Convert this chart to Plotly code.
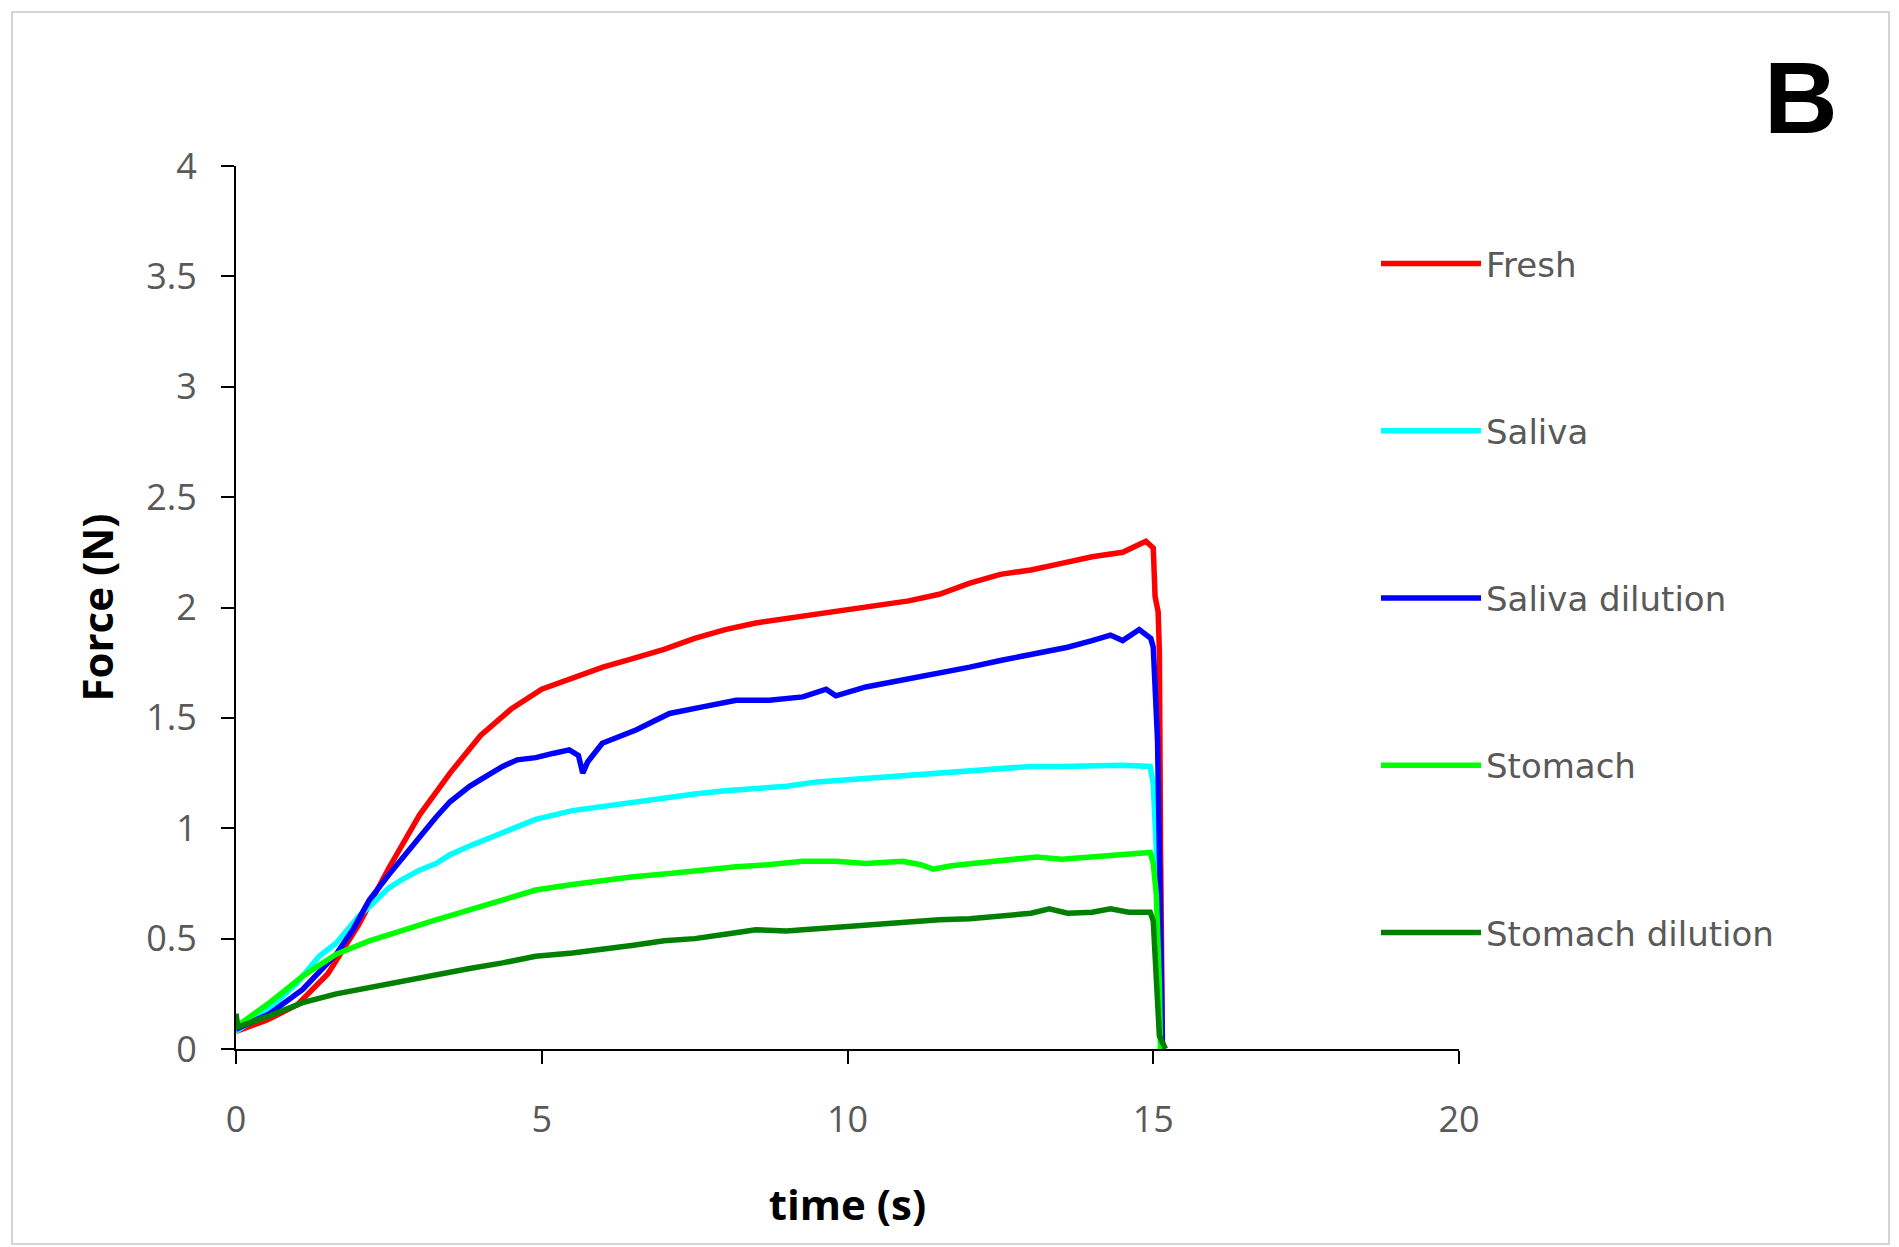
import plotly.graph_objects as go

# ---- data ----
series_names = ["Fresh", "Saliva", "Saliva dilution", "Stomach", "Stomach dilution"]
series_colors = ["#ff0000", "#00ffff", "#0000ff", "#00ff00", "#008000"]

fresh_t = [0, 0.5, 1.0, 1.3, 1.5, 2.0, 2.5, 3.0, 3.5, 4.0, 4.5, 5.0, 5.5, 6.0, 6.5, 7.0, 7.5,
           8.0, 8.5, 9.0, 9.5, 10.0, 10.5, 11.0, 11.5, 12.0, 12.5, 13.0, 13.5, 14.0, 14.5,
           14.88, 15.0, 15.03, 15.08, 15.1, 15.12, 15.15]
fresh_f = [0.08, 0.13, 0.20, 0.28, 0.34, 0.56, 0.82, 1.06, 1.25, 1.42, 1.54, 1.63, 1.68, 1.73,
           1.77, 1.81, 1.86, 1.90, 1.93, 1.95, 1.97, 1.99, 2.01, 2.03, 2.06, 2.11, 2.15, 2.17,
           2.20, 2.23, 2.25, 2.30, 2.27, 2.05, 1.98, 1.80, 0.90, 0.02]

saliva_t = [0, 0.5, 1.0, 1.36, 1.64, 2.0, 2.18, 2.5, 2.73, 3.0, 3.27, 3.5, 3.82, 4.0, 4.36, 4.9,
            5.5, 6.0, 6.5, 7.0, 7.5, 8.0, 8.5, 9.0, 9.5, 10.0, 10.5, 11.0, 11.5, 12.0, 12.5,
            13.0, 13.5, 14.0, 14.5, 14.95, 15.0, 15.05, 15.12]
saliva_f = [0.08, 0.17, 0.30, 0.42, 0.48, 0.60, 0.645, 0.73, 0.77, 0.81, 0.84, 0.88, 0.92, 0.94,
            0.98, 1.04, 1.08, 1.10, 1.12, 1.14, 1.155, 1.17, 1.18, 1.19, 1.21, 1.22, 1.225,
            1.235, 1.25, 1.26, 1.27, 1.28, 1.28, 1.285, 1.285, 1.28, 1.20, 0.90, 0.0]

salivadil_t = [0, 0.55, 1.09, 1.64, 1.91, 2.18, 2.5, 2.73, 3.0, 3.27, 3.5, 3.82, 4.0, 4.36, 4.6,
               4.9, 5.2, 5.45, 5.6, 5.67, 5.75, 5.99, 6.54, 7.09, 7.63, 8.18, 8.72, 9.27, 9.65,
               9.81, 10.3, 10.9, 11.5, 12.0, 12.5, 13.1, 13.6, 14.0, 14.3, 14.5, 14.77, 14.96,
               15.0, 15.03, 15.07, 15.1, 15.12, 15.15]
salivadil_f = [0.09, 0.16, 0.27, 0.43, 0.54, 0.675, 0.79, 0.87, 0.96, 1.05, 1.12, 1.19, 1.22,
               1.28, 1.31, 1.32, 1.34, 1.355, 1.33, 1.25, 1.30, 1.385, 1.445, 1.52, 1.55, 1.58,
               1.58, 1.595, 1.63, 1.60, 1.64, 1.67, 1.70, 1.73, 1.76, 1.79, 1.82, 1.85, 1.875,
               1.85, 1.90, 1.86, 1.82, 1.64, 1.40, 0.90, 0.30, 0.0]

stomach_t = [0, 0.55, 1.09, 1.64, 2.18, 2.73, 3.27, 3.82, 4.36, 4.9, 5.5, 5.99, 6.5, 7.09, 7.6,
             8.18, 8.7, 9.27, 9.81, 10.3, 10.9, 11.2, 11.4, 11.7, 12.2, 12.7, 13.1, 13.5, 14.0,
             14.5, 14.95, 15.0, 15.05, 15.1, 15.12]
stomach_f = [0.10, 0.21, 0.33, 0.43, 0.49, 0.54, 0.585, 0.63, 0.675, 0.72, 0.745, 0.765, 0.78,
             0.795, 0.81, 0.826, 0.835, 0.85, 0.85, 0.84, 0.85, 0.835, 0.815, 0.83, 0.845, 0.86,
             0.87, 0.86, 0.87, 0.885, 0.89, 0.84, 0.70, 0.30, 0.0]

stomachdil_t = [0, 0.03, 0.55, 1.09, 1.64, 2.18, 2.73, 3.27, 3.82, 4.36, 4.9, 5.5, 6.0, 6.5, 7.0,
                7.5, 8.0, 8.5, 9.0, 9.5, 10.0, 10.5, 11.0, 11.5, 12.0, 12.5, 13.0, 13.3, 13.6,
                14.0, 14.3, 14.6, 14.95, 15.0, 15.05, 15.1, 15.15, 15.2]
stomachdil_f = [0.16, 0.10, 0.15, 0.21, 0.25, 0.28, 0.31, 0.34, 0.365, 0.39, 0.42, 0.435, 0.45,
                0.47, 0.49, 0.50, 0.52, 0.54, 0.535, 0.545, 0.555, 0.57, 0.58, 0.585, 0.59, 0.60,
                0.615, 0.635, 0.615, 0.62, 0.635, 0.62, 0.62, 0.58, 0.30, 0.06, 0.03, 0.0]

x_ticks = [0, 5, 10, 15, 20]
y_ticks = [0, 0.5, 1, 1.5, 2, 2.5, 3, 3.5, 4]

all_t = [fresh_t, saliva_t, salivadil_t, stomach_t, stomachdil_t]
all_f = [fresh_f, saliva_f, salivadil_f, stomach_f, stomachdil_f]

fig = go.Figure()
for name, color, t, f in zip(series_names, series_colors, all_t, all_f):
    fig.add_trace(go.Scatter(
        x=t, y=f, mode="lines", name=name, legendgroup=name,
        line=dict(color=color, width=5.5),
    ))

# the page body adds an 8px offset; target positions are in screenshot pixels
OFF = 8
W, H = 1899, 1247
L, R, T, B = 236 - OFF, 440 + OFF, 166 - OFF, 198 + OFF
pw, ph = W - L - R, H - T - B

def px(xp):
    return (xp - OFF - L) / pw

def py(yp):
    return (H - B - (yp - OFF)) / ph

tick_font = dict(family="Open Sans, sans-serif", size=36, color="#595959")
title_font = dict(family="Open Sans, sans-serif", size=42, color="#000000", weight="bold")

fig.update_layout(
    width=W, height=H,
    margin=dict(l=L, r=R, t=T, b=B, autoexpand=False),
    paper_bgcolor="white", plot_bgcolor="white",
    showlegend=True,
    legend=dict(
        x=px(1376), y=py(235), xanchor="left", yanchor="top",
        font=dict(family="DejaVu Sans, sans-serif", size=34, color="#595959"),
        bgcolor="rgba(0,0,0,0)", borderwidth=0,
        tracegroupgap=120, itemwidth=100, traceorder="grouped",
    ),
    xaxis=dict(
        range=[0, 20], tickvals=x_ticks, ticktext=[str(v) for v in x_ticks],
        showline=True, linecolor="black", linewidth=2,
        ticks="outside", ticklen=13, tickwidth=2, tickcolor="black",
        showgrid=False, zeroline=False, tickfont=tick_font, ticklabelstandoff=25,
        title=dict(text="time (s)", font=title_font, standoff=48),
        automargin=False,
    ),
    yaxis=dict(
        range=[0, 4], tickvals=y_ticks, ticktext=[f"{v:g}" for v in y_ticks],
        showline=True, linecolor="black", linewidth=2,
        ticks="outside", ticklen=13, tickwidth=2, tickcolor="black",
        showgrid=False, zeroline=False, tickfont=tick_font, ticklabelstandoff=17,
        title=dict(text="Force (N)", font=title_font, standoff=19),
        automargin=False,
    ),
    shapes=[dict(
        type="rect", xref="paper", yref="paper",
        x0=px(12), x1=px(1889), y0=py(1244), y1=py(12),
        line=dict(color="#d4d4d4", width=2), fillcolor="rgba(0,0,0,0)", layer="below",
    )],
    annotations=[dict(
        text="<b>B</b>", xref="paper", yref="paper", x=px(1801), y=py(98),
        xanchor="center", yanchor="middle", showarrow=False,
        font=dict(family="Liberation Sans, Arial, sans-serif", size=102, color="black"),
    )],
)

fig.write_html("out.html")
